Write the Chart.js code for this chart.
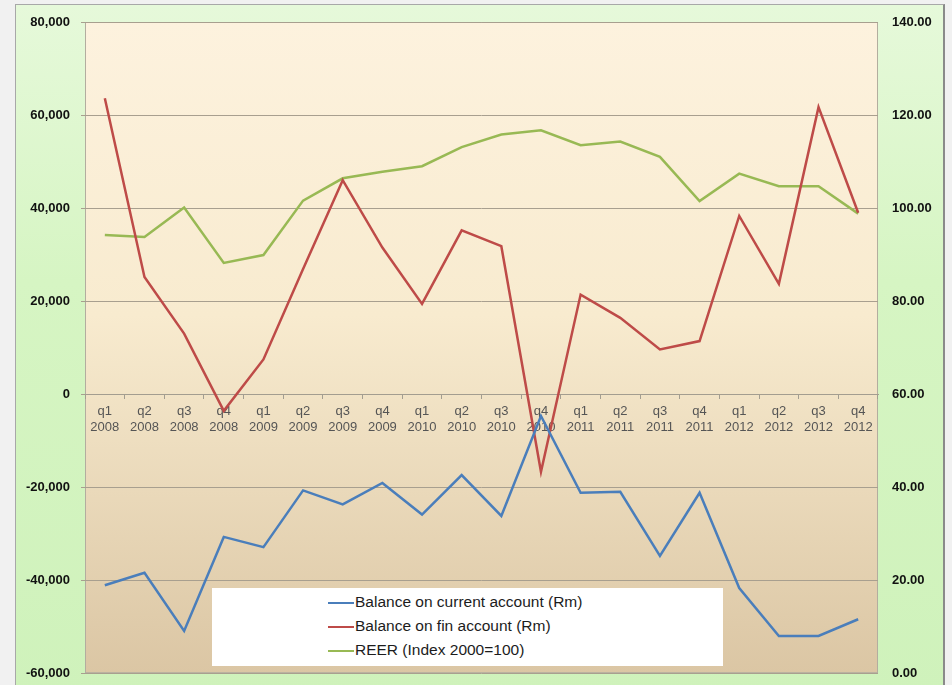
<!DOCTYPE html>
<html>
<head>
<meta charset="utf-8">
<script src="https://cdn.jsdelivr.net/npm/chart.js@4.4.1/dist/chart.umd.min.js"></script>
<style>
  html, body { margin: 0; padding: 0; background: #f1f1f1; overflow: hidden; width: 952px; height: 685px; }
  #frame {
    position: absolute; left: 15px; top: 4px; width: 927px; height: 690px;
    border: 1px solid #a8a8a8; border-right: 2px solid #8a8a8a;
    background: linear-gradient(to bottom, #e6f9da 0%, #d6f5c3 40%, #cff2bb 100%);
  }
  #wrap { position: absolute; left: 0; top: 0; width: 952px; height: 695px; }
  #legend {
    position: absolute; left: 212px; top: 588px; width: 511px; height: 78px;
    background: #ffffff; font-family: 'Liberation Sans', Arial, sans-serif;
    font-size: 15.5px; color: #1c1c1c;
  }
  .leg-item { position: absolute; left: 116px; height: 20px; line-height: 20px; white-space: nowrap; }
  .leg-ln { display: inline-block; width: 26px; height: 2px; vertical-align: middle; margin-right: 1px; }
</style>
</head>
<body>
<div id="frame"></div>
<div id="wrap"><canvas id="c" width="952" height="695"></canvas></div>
<div id="legend"></div>
<script>
const quarters = ['q1','q2','q3','q4','q1','q2','q3','q4','q1','q2','q3','q4','q1','q2','q3','q4','q1','q2','q3','q4'];
const years    = ['2008','2008','2008','2008','2009','2009','2009','2009','2010','2010','2010','2010','2011','2011','2011','2011','2012','2012','2012','2012'];

const currentAcc = [-41100, -38400, -50900, -30700, -32900, -20700, -23700, -19100, -25900, -17400,
                    -26200, -4700, -21200, -21000, -34800, -21200, -41700, -52000, -52000, -48400];
const finAcc     = [63600, 25200, 13000, -3600, 7450, 26900, 46000, 31500, 19400, 35200,
                    31800, -16700, 21400, 16400, 9600, 11400, 38300, 23700, 61700, 39000];
const reer       = [94.2, 93.8, 100.1, 88.2, 89.9, 101.6, 106.4, 107.8, 109.0, 113.1,
                    115.8, 116.7, 113.5, 114.3, 111.0, 101.5, 107.4, 104.7, 104.7, 98.8];

const SERIES = [
  { label: 'Balance on current account (Rm)', data: currentAcc, color: '#4a7ebb', axis: 'y' },
  { label: 'Balance on fin account (Rm)',     data: finAcc,     color: '#be4b48', axis: 'y' },
  { label: 'REER (Index 2000=100)',           data: reer,       color: '#98b954', axis: 'y2' },
];

const plotBg = {
  id: 'plotBg',
  beforeDraw(chart) {
    const { ctx, chartArea: a } = chart;
    const g = ctx.createLinearGradient(0, a.top, 0, a.bottom);
    g.addColorStop(0, '#fdf2de');
    g.addColorStop(0.45, '#f8ebcf');
    g.addColorStop(1, '#dbc6a4');
    ctx.save();
    ctx.fillStyle = g;
    ctx.fillRect(a.left, a.top, a.right - a.left, a.bottom - a.top);
    ctx.strokeStyle = '#b3ad9f';
    ctx.lineWidth = 1;
    ctx.strokeRect(a.left + 0.5, a.top + 0.5, a.right - a.left - 1, a.bottom - a.top - 1);
    ctx.restore();
  }
};

const tickFont = { family: "'Liberation Sans', Arial, sans-serif", size: 13, weight: 'bold' };

new Chart(document.getElementById('c'), {
  type: 'line',
  data: {
    labels: quarters.map((q, i) => [q, years[i]]),
    datasets: SERIES.map(s => ({
      label: s.label, data: s.data, yAxisID: s.axis,
      borderColor: s.color, backgroundColor: s.color,
      borderWidth: 2.5, pointRadius: 0, tension: 0, fill: false,
    })),
  },
  plugins: [plotBg],
  options: {
    responsive: false, animation: false,
    layout: { padding: { top: 22, bottom: 4, left: 0, right: 0 } },
    plugins: { legend: { display: false }, tooltip: { enabled: false } },
    scales: {
      x: {
        position: { y: 0 },
        offset: true,
        grid: { drawOnChartArea: false, drawTicks: true, tickLength: 4, offset: true, color: '#a39d90' },
        border: { display: true, color: '#a39d90', width: 1 },
        ticks: { color: '#555555', padding: 6, maxRotation: 0, autoSkip: false,
                 font: { family: "'Liberation Sans Narrow', 'Liberation Sans', Arial, sans-serif", size: 13 } },
      },
      y: {
        position: 'left', min: -60000, max: 80000,
        ticks: { stepSize: 20000, color: '#111', font: tickFont, padding: 11,
                 callback: v => v.toLocaleString('en-US') },
        grid: { color: '#a89f8f', lineWidth: 1, tickLength: 4 },
        border: { display: false },
        afterFit: s => { s.width = 85; },
      },
      y2: {
        position: 'right', min: 0, max: 140,
        ticks: { stepSize: 20, color: '#111', font: tickFont, padding: 14,
                 callback: v => v.toFixed(2) },
        grid: { drawOnChartArea: false, drawTicks: false },
        border: { display: false },
        afterFit: s => { s.width = 74; },
      },
    },
  },
});

document.getElementById('legend').innerHTML = SERIES.map((s, i) =>
  `<div class="leg-item" style="top:${4 + i * 24}px"><span class="leg-ln" style="background:${s.color}"></span>${s.label}</div>`
).join('');
</script>
</body>
</html>
